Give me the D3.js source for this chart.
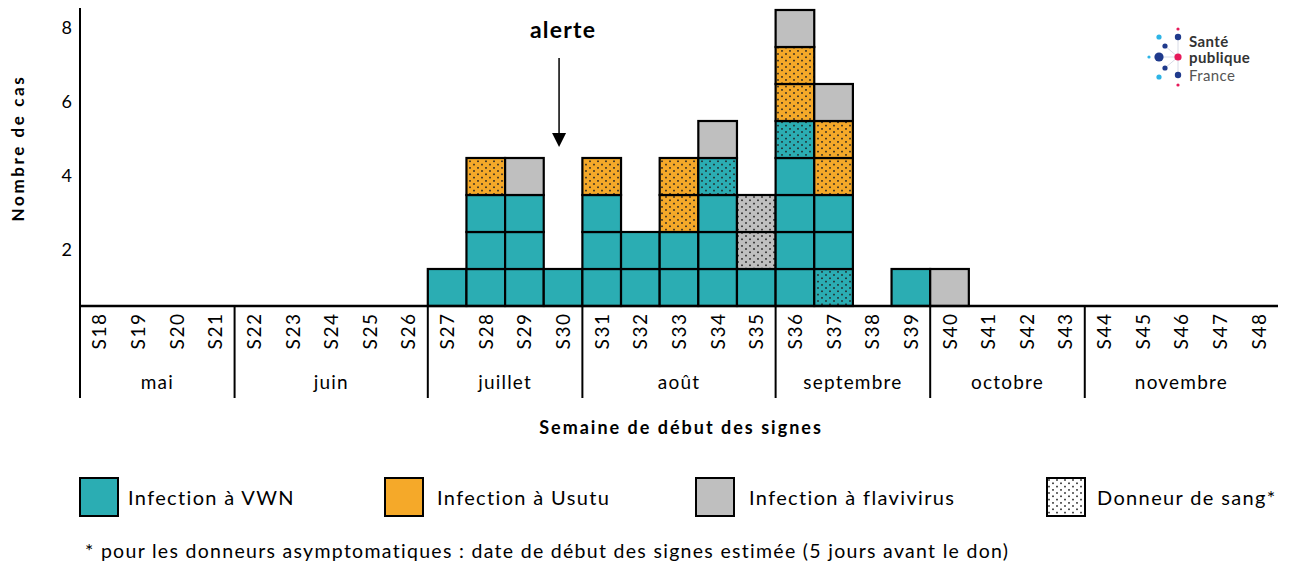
<!DOCTYPE html>
<html>
<head>
<meta charset="utf-8">
<title>cas par semaine</title>
<script src="https://d3js.org/d3.v7.min.js"></script>
<style>
    body { margin: 0; background: #fff; overflow: hidden; }
    svg text { font-family: Lato, "Open Sans", sans-serif; fill: #000; }
</style>
</head>
<body>
<svg id="chart" width="1293" height="568"></svg>
<script>
    // semaines (axe x)
    const weeks = ["S18","S19","S20","S21","S22","S23","S24","S25","S26","S27","S28","S29","S30",
        "S31","S32","S33","S34","S35","S36","S37","S38","S39","S40","S41","S42","S43",
        "S44","S45","S46","S47","S48"];
    const monthNames = ["mai", "juin", "juillet", "août", "septembre", "octobre", "novembre"];
    const monthFirstWeek = ["S18", "S22", "S27", "S31", "S36", "S40", "S44"];
    const monthLastWeek = ["S21", "S26", "S30", "S35", "S39", "S43", "S48"];

    // cas empilés du bas vers le haut ; V = VWN, U = Usutu, F = flavivirus, * = donneur de sang
    const caseWeeks = ["S27","S28","S29","S30","S31","S32","S33","S34","S35","S36","S37","S39","S40"];
    const caseStacks = [
        ["V"],
        ["V","V","V","U*"],
        ["V","V","V","F"],
        ["V"],
        ["V","V","V","U*"],
        ["V","V"],
        ["V","V","U*","U*"],
        ["V","V","V","V*","F"],
        ["V","F*","F*"],
        ["V","V","V","V","V*","U*","U*","F"],
        ["V*","V","V","U*","U*","F"],
        ["V"],
        ["F"]
    ];
    const yTicks = [2, 4, 6, 8];

    const legendLabels = ["Infection à VWN", "Infection à Usutu", "Infection à flavivirus", "Donneur de sang*"];
    const colors = { V: "#2badb3", U: "#f5a929", F: "#bfbfbf" };

    const svg = d3.select("#chart");
    const mLeft = 80, mRight = 1278, mBottom = 306, mTop = 10;

    const x = d3.scaleBand().domain(weeks).range([mLeft, mRight]).padding(0);
    const y = d3.scaleLinear().domain([0, 8]).range([mBottom, mTop]);

    // motif pointillé
    const defs = svg.append("defs");
    ["V", "U", "F", "W"].forEach(k => {
        const p = defs.append("pattern")
            .attr("id", "dots" + k)
            .attr("patternUnits", "userSpaceOnUse")
            .attr("width", 8).attr("height", 13);
        p.append("rect").attr("width", 8).attr("height", 13).attr("fill", k == "W" ? "#fff" : colors[k]);
        [[2, 2], [6, 5.3], [2, 8.6], [6, 11.9]].forEach(([dx, dy]) => {
            p.append("rect").attr("x", dx - 0.8).attr("y", dy - 0.8)
                .attr("width", 1.6).attr("height", 1.6).attr("fill", "#222");
        });
    });

    // boites
    const cells = [];
    caseWeeks.forEach((w, i) => {
        caseStacks[i].forEach((c, j) => cells.push({ week: w, level: j, type: c[0], donor: c.length > 1 }));
    });

    svg.append("g").selectAll("rect")
        .data(cells)
        .join("rect")
        .attr("x", d => x(d.week))
        .attr("y", d => y(d.level + 1))
        .attr("width", x.bandwidth())
        .attr("height", d => y(d.level) - y(d.level + 1))
        .attr("fill", d => d.donor ? "url(#dots" + d.type + ")" : colors[d.type])
        .attr("stroke", "#000")
        .attr("stroke-width", 2.2);

    // axe y
    svg.append("line").attr("x1", mLeft).attr("x2", mLeft).attr("y1", 8).attr("y2", 398)
        .attr("stroke", "#000").attr("stroke-width", 2);
    const yAxis = svg.append("g")
        .attr("transform", `translate(${mLeft - 6},0)`)
        .call(d3.axisLeft(y).tickValues(yTicks).tickSize(0).tickFormat(d3.format("d")));
    yAxis.select(".domain").remove();
    yAxis.selectAll(".tick").attr("transform", d => `translate(0,${y(d - 0.5)})`);
    yAxis.selectAll("text").attr("font-size", 18).attr("x", -2);

    svg.append("text")
        .attr("transform", `translate(24,${(mTop + mBottom) / 2 - 10}) rotate(-90)`)
        .attr("text-anchor", "middle")
        .attr("font-size", 17).attr("font-weight", "bold").attr("letter-spacing", 2.6)
        .text("Nombre de cas");

    // axe x : semaines et mois
    svg.append("line").attr("x1", mLeft).attr("x2", mRight).attr("y1", mBottom).attr("y2", mBottom)
        .attr("stroke", "#000").attr("stroke-width", 2.5);

    svg.append("g").selectAll("text")
        .data(weeks)
        .join("text")
        .attr("transform", d => `translate(${x(d) + x.bandwidth() / 2 + 7},331) rotate(-90)`)
        .attr("text-anchor", "middle")
        .attr("font-size", 19).attr("letter-spacing", 1.5)
        .text(d => d);

    monthNames.forEach((m, i) => {
        const x0 = x(monthFirstWeek[i]), x1 = x(monthLastWeek[i]) + x.bandwidth();
        if (i > 0) {
            svg.append("line").attr("x1", x0).attr("x2", x0).attr("y1", mBottom).attr("y2", 398)
                .attr("stroke", "#000").attr("stroke-width", 2);
        }
        svg.append("text")
            .attr("x", (x0 + x1) / 2).attr("y", 389)
            .attr("text-anchor", "middle")
            .attr("font-size", 19).attr("letter-spacing", 1.2)
            .text(m);
    });

    svg.append("text")
        .attr("x", 681).attr("y", 434)
        .attr("text-anchor", "middle")
        .attr("font-size", 18).attr("font-weight", "bold").attr("letter-spacing", 2)
        .text("Semaine de début des signes");

    // alerte
    const alertX = x("S30") + x.bandwidth() / 2 - 4;
    svg.append("text")
        .attr("x", alertX + 4).attr("y", 38)
        .attr("text-anchor", "middle")
        .attr("font-size", 23).attr("font-weight", "bold").attr("letter-spacing", 1.2)
        .text("alerte");
    svg.append("line").attr("x1", alertX).attr("x2", alertX).attr("y1", 58).attr("y2", 135)
        .attr("stroke", "#000").attr("stroke-width", 1.5);
    svg.append("path")
        .attr("d", `M${alertX - 7},133 L${alertX + 7},133 L${alertX},147 Z`)
        .attr("fill", "#000");

    // légende
    const legendX = [80, 385, 696, 1047];
    const legendFill = [colors.V, colors.U, colors.F, "url(#dotsW)"];
    const lg = svg.append("g").selectAll("g")
        .data(legendLabels)
        .join("g")
        .attr("transform", (d, i) => `translate(${legendX[i]},478)`);
    lg.append("rect")
        .attr("width", 38).attr("height", 38)
        .attr("fill", (d, i) => legendFill[i])
        .attr("stroke", "#000").attr("stroke-width", 2);
    lg.append("text")
        .attr("x", (d, i) => [48, 52, 53, 50][i]).attr("y", 27)
        .attr("font-size", 20).attr("letter-spacing", 1.35)
        .text(d => d);

    svg.append("text")
        .attr("x", 85).attr("y", 558)
        .attr("font-size", 19.5).attr("letter-spacing", 1.3)
        .text("* pour les donneurs asymptomatiques : date de début des signes estimée (5 jours avant le don)");

    // logo Santé publique France
    const logo = svg.append("g");
    const logoDots = [
        [1178, 29, 1.6, "#e6195a"], [1159, 37, 2.6, "#2cb4e6"], [1178, 37, 3.2, "#1f3a8c"],
        [1165, 46, 2.6, "#1f3a8c"], [1149, 57, 1.6, "#2cb4e6"], [1159, 57, 4.6, "#1f3a8c"],
        [1178, 57, 3.6, "#e6195a"], [1165, 68, 2.6, "#1f3a8c"], [1159, 77, 2.6, "#2cb4e6"],
        [1178, 75, 3.2, "#1f3a8c"], [1178, 85, 1.6, "#e6195a"]
    ];
    [[1159, 57, 1178, 57], [1178, 37, 1178, 75], [1165, 46, 1178, 57], [1165, 68, 1178, 57]].forEach(l => {
        logo.append("line").attr("x1", l[0]).attr("y1", l[1]).attr("x2", l[2]).attr("y2", l[3])
            .attr("stroke", "#d8dbe6").attr("stroke-width", 1);
    });
    logo.selectAll("circle").data(logoDots).join("circle")
        .attr("cx", d => d[0]).attr("cy", d => d[1]).attr("r", d => d[2]).attr("fill", d => d[3]);
    [["Santé", 47, "bold"], ["publique", 63, "bold"], ["France", 81, "normal"]].forEach(t => {
        logo.append("text").attr("x", 1189).attr("y", t[1])
            .attr("font-size", 15).attr("font-weight", t[2]).attr("letter-spacing", 0.4)
            .style("fill", t[2] == "bold" ? "#333" : "#555")
            .text(t[0]);
    });
</script>
</body>
</html>
